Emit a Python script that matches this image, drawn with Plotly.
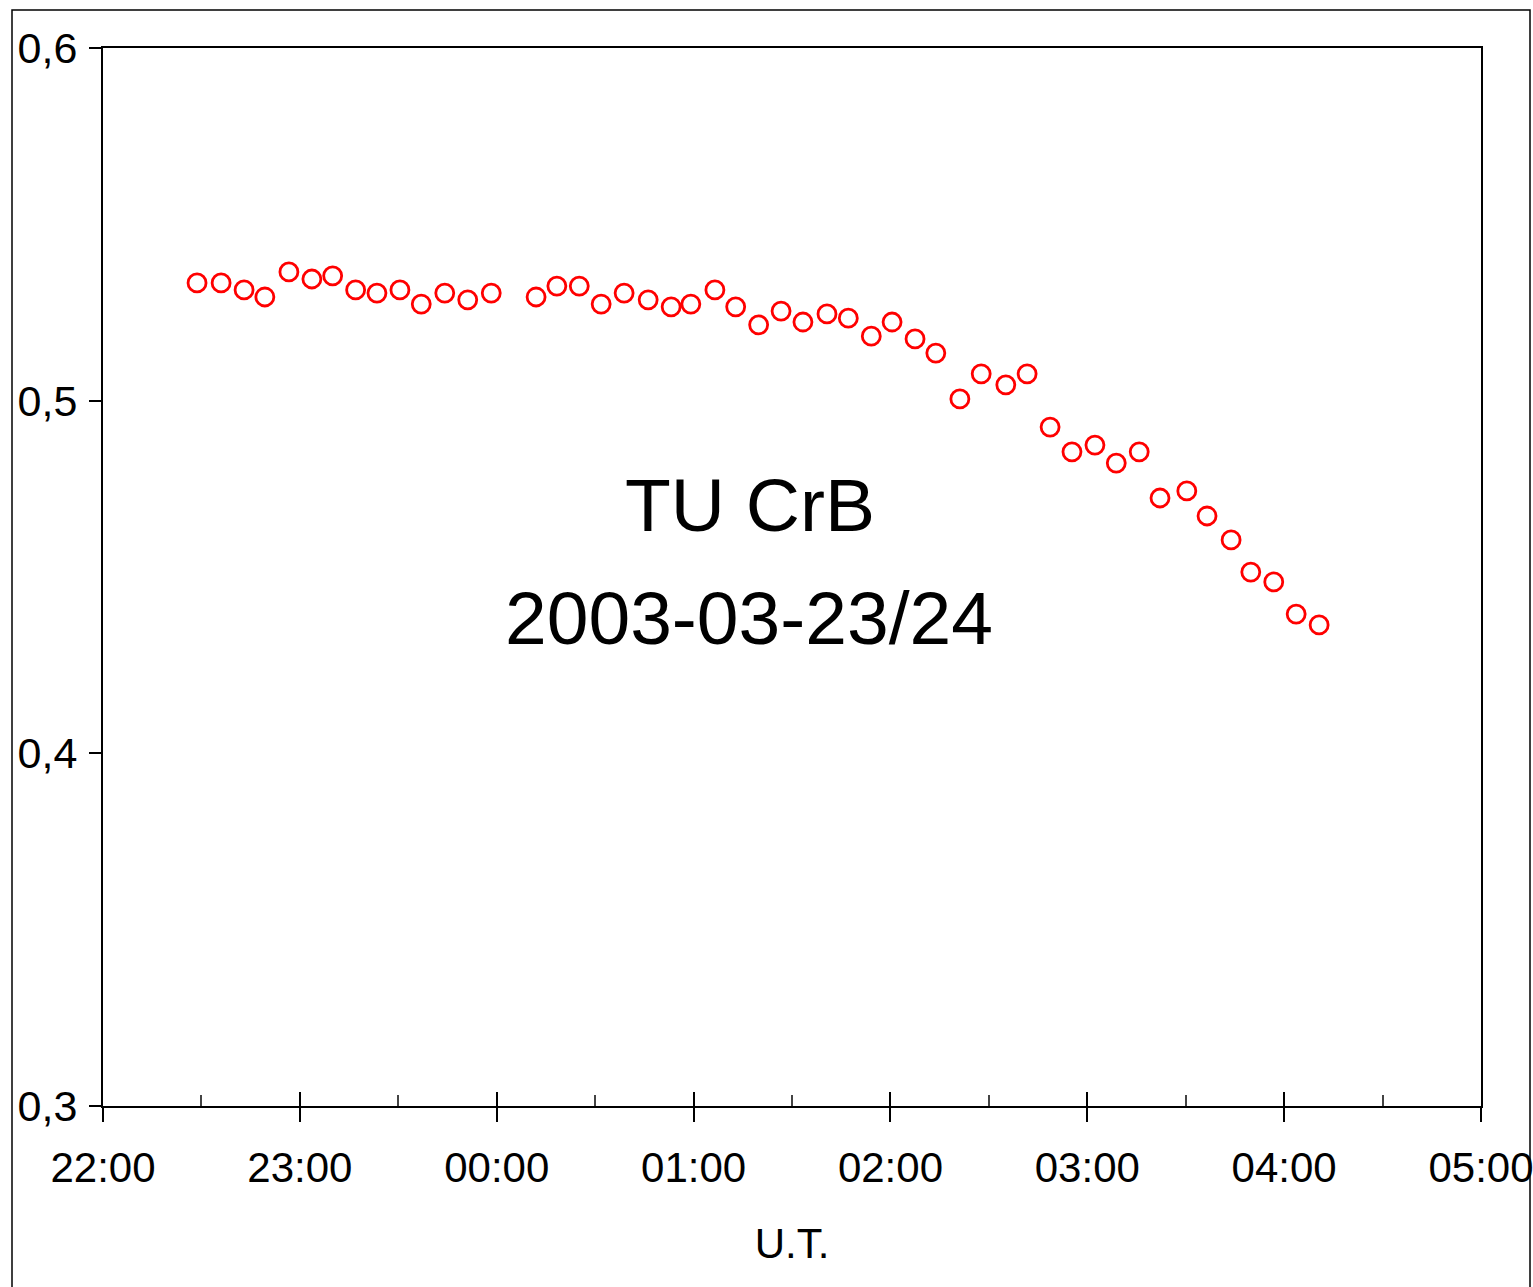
import plotly.graph_objects as go
from datetime import datetime

# Data (UT times, night 2003-03-23/24)
times = [
    "22:28:40", "22:36:00", "22:43:00", "22:49:20", "22:56:40", "23:03:40", "23:10:00",
    "23:17:00", "23:23:30", "23:30:30", "23:37:00", "23:44:10", "23:51:10", "23:58:20",
    "00:12:00", "00:18:20", "00:25:10", "00:31:50", "00:38:50", "00:46:10", "00:53:10",
    "00:59:10", "01:06:30", "01:12:50", "01:19:50", "01:26:40", "01:33:20", "01:40:40",
    "01:47:10", "01:54:10", "02:00:30", "02:07:30", "02:13:50", "02:21:10", "02:27:40",
    "02:35:10", "02:41:40", "02:48:40", "02:55:20", "03:02:20", "03:08:50", "03:15:50",
    "03:22:10", "03:30:20", "03:36:30", "03:43:50", "03:49:50", "03:56:50", "04:03:40",
    "04:10:40",
]
values = [
    0.5334, 0.5334, 0.5314, 0.5294, 0.5365, 0.5345, 0.5354,
    0.5314, 0.5305, 0.5314, 0.5274, 0.5305, 0.5286, 0.5305,
    0.5294, 0.5325, 0.5325, 0.5274, 0.5305, 0.5286, 0.5266,
    0.5274, 0.5314, 0.5266, 0.5215, 0.5254, 0.5223, 0.5246,
    0.5234, 0.5183, 0.5223, 0.5175, 0.5135, 0.5005, 0.5076,
    0.5045, 0.5076, 0.4925, 0.4855, 0.4874, 0.4823, 0.4855,
    0.4724, 0.4744, 0.4673, 0.4605, 0.4514, 0.4486, 0.4395,
    0.4364,
]
title_lines = ["TU CrB", "2003-03-23/24"]
x_title = "U.T."
x_range = ["2003-03-23 22:00:00", "2003-03-24 05:00:00"]
x_tick_labels = ["22:00", "23:00", "00:00", "01:00", "02:00", "03:00", "04:00", "05:00"]
y_range = [0.3, 0.6]


def to_dt(t):
    h = int(t[:2])
    day = "2003-03-23" if h >= 12 else "2003-03-24"
    return datetime.strptime(day + " " + t, "%Y-%m-%d %H:%M:%S")


xs = [to_dt(t) for t in times]
x_tick_vals = [to_dt(t + ":00") for t in x_tick_labels]

FONT = "Liberation Sans, Arial, sans-serif"

W, H = 1533, 1287
L, R, T, B = 103, 1481, 48, 1106

fig = go.Figure()
fig.add_trace(go.Scatter(
    x=xs, y=values, mode="markers",
    marker=dict(symbol="circle-open", size=18, color="#ff0000",
                line=dict(width=2.8, color="#ff0000")),
    showlegend=False, hoverinfo="skip",
))
# invisible trace so the overlay axis (inside tick marks) is drawn
fig.add_trace(go.Scatter(x=[xs[0]], y=[values[0]], xaxis="x2", mode="markers",
                         marker=dict(opacity=0), showlegend=False, hoverinfo="skip"))

fig.update_layout(
    template="none",
    width=W, height=H,
    margin=dict(l=L, r=W - R, t=T, b=H - B, pad=0, autoexpand=False),
    paper_bgcolor="white", plot_bgcolor="white",
    separators=",.",
    font=dict(family=FONT, color="black", size=42),
    xaxis=dict(
        type="date", range=x_range, tickmode="array",
        tickvals=x_tick_vals, ticktext=x_tick_labels,
        showgrid=False, zeroline=False, automargin=False,
        showline=True, linecolor="black", linewidth=1.5, mirror=True,
        ticks="outside", ticklen=14, tickwidth=1.5, tickcolor="black",
        tickfont=dict(family=FONT, size=42, color="black"),
        ticklabelstandoff=10, ticklabeloverflow="allow",
        title=dict(text=x_title, font=dict(family=FONT, size=42, color="black"), standoff=38),
    ),
    xaxis2=dict(
        type="date", range=x_range, overlaying="x", anchor="y", side="bottom",
        tickmode="array", tickvals=x_tick_vals,
        showticklabels=False, showgrid=False, zeroline=False, showline=False,
        automargin=False,
        ticks="inside", ticklen=14, tickwidth=1.5, tickcolor="black",
        minor=dict(ticks="inside", ticklen=11, tickwidth=1.5, tickcolor="#444",
                   dtick=1800000, tick0="2003-03-23 22:30:00", showgrid=False),
    ),
    yaxis=dict(
        range=y_range, dtick=0.1, tick0=0.3, tickformat=".1f",
        showgrid=False, zeroline=False, automargin=False,
        showline=True, linecolor="black", linewidth=2, mirror=True,
        ticks="outside", ticklen=12, tickwidth=1.5, tickcolor="black",
        tickfont=dict(family=FONT, size=43, color="black"),
        ticklabelstandoff=3,
    ),
    shapes=[dict(
        type="rect", xref="paper", yref="paper", layer="below",
        x0=(12 - L) / (R - L), x1=(1530 - L) / (R - L),
        y0=(B - 1300) / (B - T), y1=(B - 10) / (B - T),
        line=dict(color="black", width=1.5), fillcolor="rgba(0,0,0,0)",
    )],
    annotations=[
        dict(text=title_lines[0], xref="paper", yref="paper",
             x=(750 - L) / (R - L), y=(B - 505) / (B - T),
             xanchor="center", yanchor="middle", showarrow=False,
             font=dict(family=FONT, size=75, color="black")),
        dict(text=title_lines[1], xref="paper", yref="paper",
             x=(749 - L) / (R - L), y=(B - 618) / (B - T),
             xanchor="center", yanchor="middle", showarrow=False,
             font=dict(family=FONT, size=75, color="black")),
    ],
)

fig.write_html("out.html", config={"displayModeBar": False},
               post_script="document.body.style.margin='0';")
